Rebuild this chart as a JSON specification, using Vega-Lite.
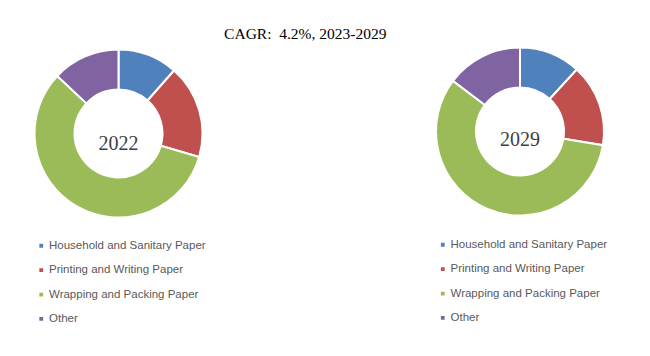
{
  "$schema": "https://vega.github.io/schema/vega-lite/v6.json",
  "padding": {"left": 18.5, "top": 26.5, "right": 0, "bottom": 0},
  "background": "white",
  "title": {
    "text": "CAGR:\u00a0 4.2%, 2023-2029",
    "font": "Liberation Serif",
    "fontSize": 15.5,
    "fontWeight": "normal",
    "color": "#000000",
    "anchor": "middle",
    "dx": -14,
    "offset": 1.5
  },
  "datasets": {
    "shares": [
      {"year": "2022", "segment": "Household and Sanitary Paper", "order": 1, "share": 11.5},
      {"year": "2022", "segment": "Printing and Writing Paper", "order": 2, "share": 18.0},
      {"year": "2022", "segment": "Wrapping and Packing Paper", "order": 3, "share": 57.5},
      {"year": "2022", "segment": "Other", "order": 4, "share": 13.0},
      {"year": "2029", "segment": "Household and Sanitary Paper", "order": 1, "share": 11.8},
      {"year": "2029", "segment": "Printing and Writing Paper", "order": 2, "share": 15.8},
      {"year": "2029", "segment": "Wrapping and Packing Paper", "order": 3, "share": 57.7},
      {"year": "2029", "segment": "Other", "order": 4, "share": 14.7}
    ],
    "labels": [
      {"year": "2022"},
      {"year": "2029"}
    ]
  },
  "config": {
    "view": {"stroke": null},
    "legend": {
      "labelFont": "Liberation Sans",
      "labelFontSize": 11.5,
      "labelColor": "#595959",
      "symbolType": "square",
      "symbolSize": 28,
      "rowPadding": 11.4,
      "labelOffset": 2
    }
  },
  "resolve": {"scale": {"color": "independent"}, "legend": {"color": "independent"}},
  "spacing": 201.5,
  "hconcat": [
    {
      "width": 200,
      "height": 168,
      "layer": [
        {
          "data": {"name": "shares"},
          "transform": [{"filter": "datum.year == '2022'"}],
          "mark": {"type": "arc", "innerRadius": 44, "outerRadius": 84, "stroke": "white", "strokeWidth": 2},
          "encoding": {
            "theta": {"field": "share", "type": "quantitative", "stack": true},
            "order": {"field": "order", "type": "quantitative"},
            "color": {
              "field": "segment",
              "type": "nominal",
              "scale": {
                "domain": ["Household and Sanitary Paper", "Printing and Writing Paper", "Wrapping and Packing Paper", "Other"],
                "range": ["#4f81bd", "#c0504d", "#9bbb59", "#8064a2"]
              },
              "legend": {"title": null, "orient": "none", "legendX": 17, "legendY": 190.5}
            }
          }
        },
        {
          "data": {"name": "labels"},
          "transform": [{"filter": "datum.year == '2022'"}],
          "mark": {"type": "text", "font": "Liberation Serif", "fontSize": 20, "color": "#404040", "yOffset": 10, "baseline": "middle"},
          "encoding": {"text": {"field": "year", "type": "nominal"}}
        }
      ]
    },
    {
      "width": 200,
      "height": 168,
      "layer": [
        {
          "data": {"name": "shares"},
          "transform": [{"filter": "datum.year == '2029'"}],
          "mark": {"type": "arc", "innerRadius": 44, "outerRadius": 84, "stroke": "white", "strokeWidth": 2, "yOffset": -2},
          "encoding": {
            "theta": {"field": "share", "type": "quantitative", "stack": true},
            "order": {"field": "order", "type": "quantitative"},
            "color": {
              "field": "segment",
              "type": "nominal",
              "scale": {
                "domain": ["Household and Sanitary Paper", "Printing and Writing Paper", "Wrapping and Packing Paper", "Other"],
                "range": ["#4f81bd", "#c0504d", "#9bbb59", "#8064a2"]
              },
              "legend": {"title": null, "orient": "none", "legendX": 17, "legendY": 189.5}
            }
          }
        },
        {
          "data": {"name": "labels"},
          "transform": [{"filter": "datum.year == '2029'"}],
          "mark": {"type": "text", "font": "Liberation Serif", "fontSize": 20, "color": "#404040", "yOffset": 6, "baseline": "middle"},
          "encoding": {"text": {"field": "year", "type": "nominal"}}
        }
      ]
    }
  ]
}
